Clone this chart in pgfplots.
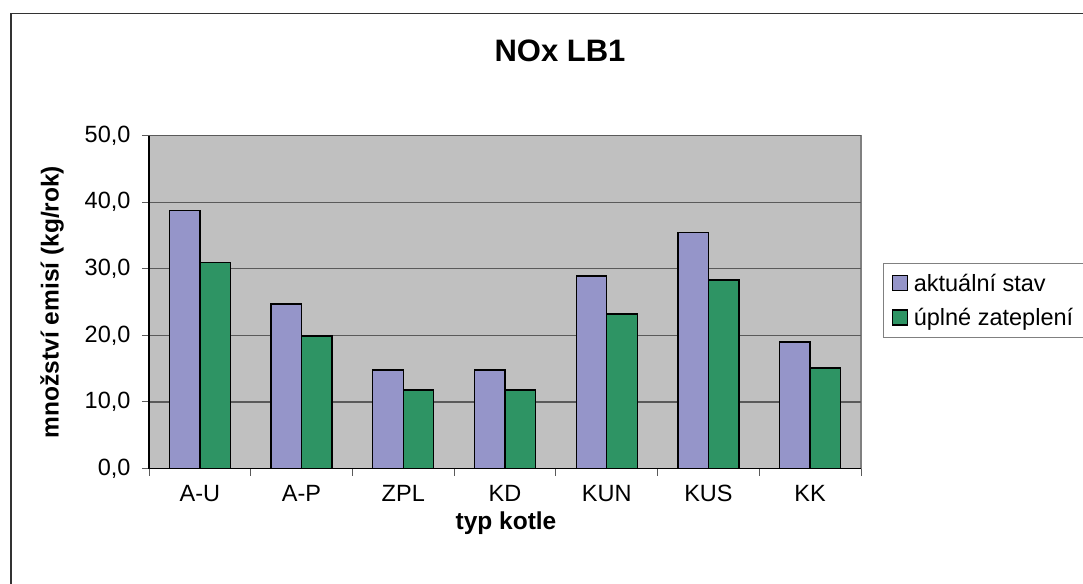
\documentclass[border=0pt]{standalone}
\usepackage{pgfplots}
\pgfplotsset{compat=1.18}
\usepackage{fontspec}
\setmainfont{Liberation Sans}
\definecolor{barblue}{RGB}{149,149,201}
\definecolor{bargreen}{RGB}{46,148,100}
\definecolor{plotgray}{RGB}{192,192,192}
\definecolor{gridgray}{RGB}{90,90,90}
\newcommand{\txt}{\fontsize{23.5bp}{28bp}\selectfont}
\pgfplotsset{sqlegend/.style={legend image code/.code={\draw[##1,line width=1.2bp] (0bp,-7bp) rectangle (15bp,8bp); \path (19bp,0bp);}}}

\begin{document}
\begin{tikzpicture}
\useasboundingbox (0,0) rectangle (1083bp,-584bp);
\clip (0,0) rectangle (1083bp,-584bp);
\fill[white] (0,0) rectangle (1083bp,-584bp);
\draw[line width=1.3bp, black!80] (11bp,-13.5bp) rectangle (1100bp,-600bp);
\begin{axis}[
  at={(149bp,-468.5bp)}, anchor=south west,
  scale only axis, width=712bp, height=332.8bp,
  xmin=-0.5, xmax=6.5, ymin=0, ymax=50,
  ybar=0pt, bar width=0.3,
  axis background/.style={fill=plotgray, draw=gray, line width=1.3bp},
  axis x line*=bottom, axis y line*=left,
  axis line style={-, line width=1.3bp, black},
  tick align=outside, major tick length=7bp,
  tick style={gridgray, line width=1bp},
  ytick={0,10,...,50}, ymajorgrids,
  grid style={gridgray, line width=1.3bp},
  yticklabel style={/pgf/number format/fixed, /pgf/number format/fixed zerofill,
    /pgf/number format/precision=1, /pgf/number format/use comma, xshift=-8bp},
  /pgf/number format/assume math mode=true,
  ticklabel style={font=\txt},
  xtick={-0.5,0.5,...,6.5}, xticklabels={},
  extra x ticks={0,1,2,3,4,5,6},
  extra x tick labels={A-U,A-P,ZPL,KD,KUN,KUS,KK},
  extra x tick style={major tick length=0pt, xticklabel style={yshift=-13bp}},
  legend style={at={(1.031,0.6166)}, anchor=north west, draw=gray,
    line width=1bp, font=\txt, inner xsep=8bp, inner ysep=8bp,
    row sep=12bp, fill=white},
  legend cell align=left,
]
\addplot[fill=barblue, draw=black, line width=1.3bp, sqlegend] coordinates {
  (0,38.8) (1,24.7) (2,14.8) (3,14.8) (4,28.9) (5,35.5) (6,19.0)
};
\addlegendentry{aktuální stav}
\addplot[fill=bargreen, draw=black, line width=1.3bp, sqlegend] coordinates {
  (0,31.0) (1,19.9) (2,11.8) (3,11.8) (4,23.2) (5,28.3) (6,15.1)
};
\addlegendentry{úplné zateplení}
\end{axis}
\node[font=\bfseries\fontsize{31bp}{36bp}\selectfont, anchor=base] at (560bp,-61bp) {NOx LB1};
\node[font=\bfseries\fontsize{24.5bp}{29bp}\selectfont, rotate=90] at (52bp,-302bp) {množství emisí (kg/rok)};
\node[font=\bfseries\fontsize{24.5bp}{29bp}\selectfont] at (506bp,-523bp) {typ kotle};
\end{tikzpicture}
\end{document}
